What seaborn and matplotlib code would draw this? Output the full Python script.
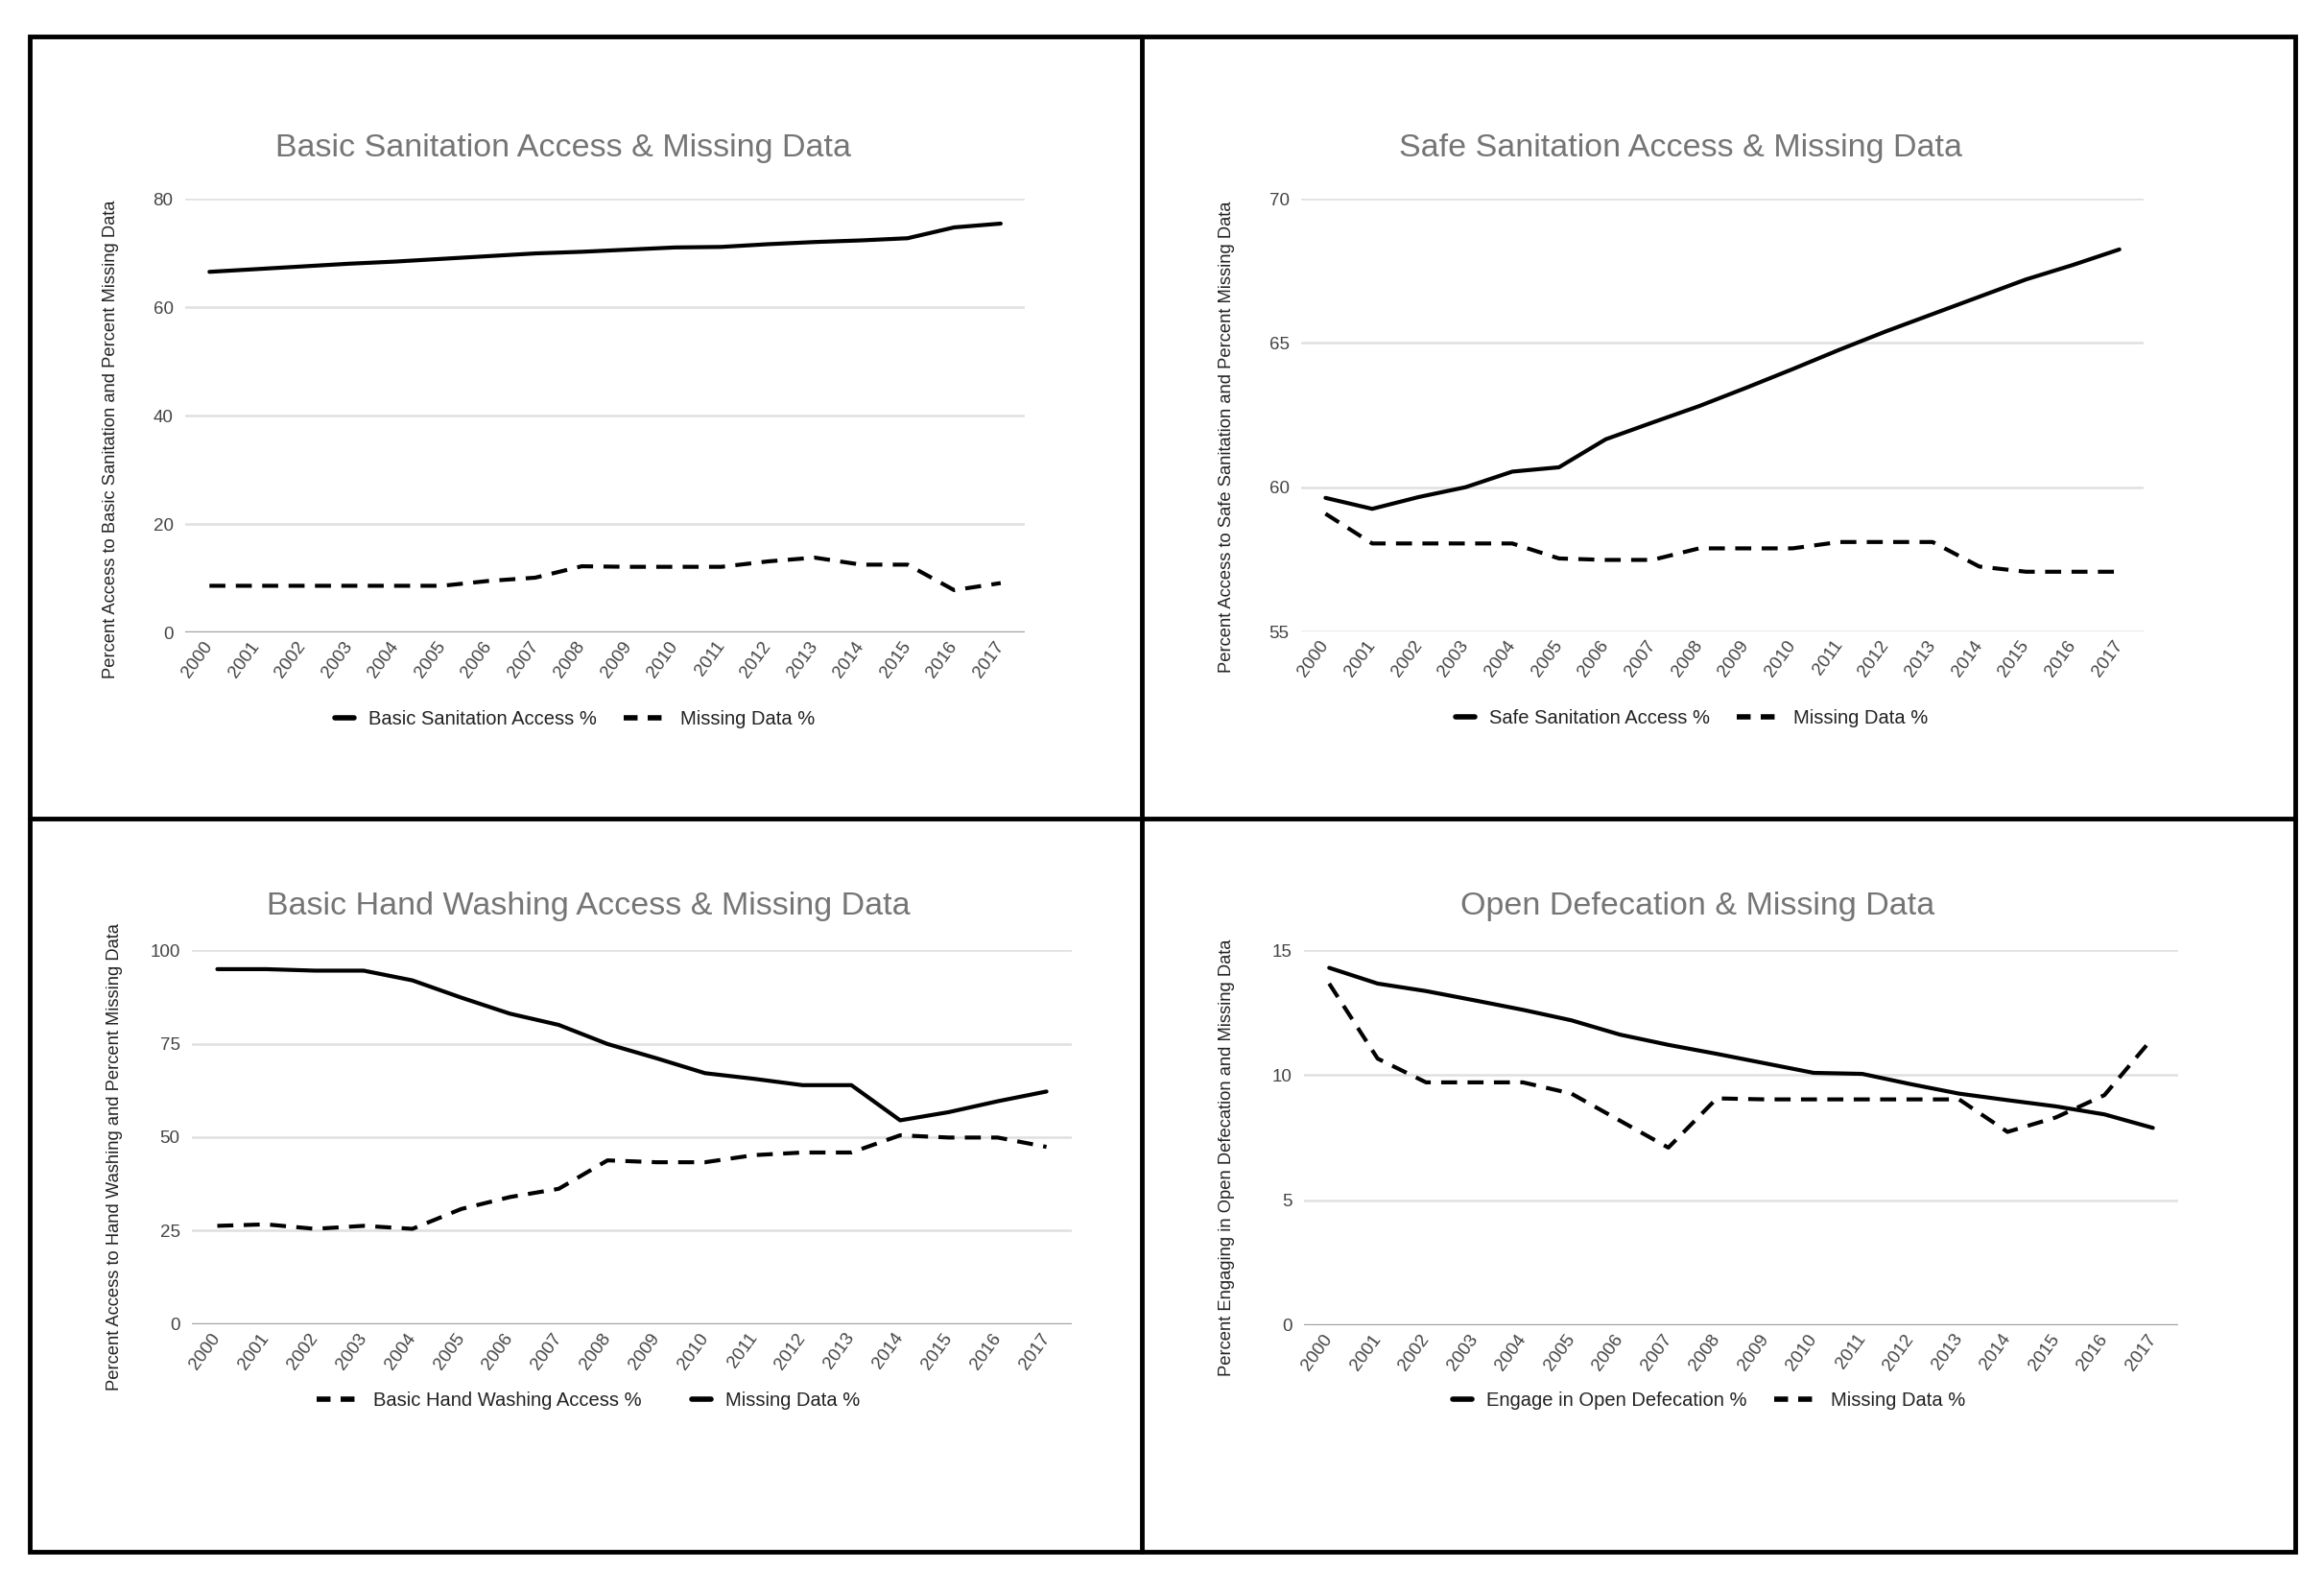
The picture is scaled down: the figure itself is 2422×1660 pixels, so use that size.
import numpy as np
import pandas as pd
import seaborn as sns
import matplotlib.pyplot as plt
from matplotlib.lines import Line2D
from matplotlib.patches import Rectangle
from matplotlib.legend_handler import HandlerLine2D

# --- dados ---
years = list(range(2000, 2018))
year_labels = [str(y) for y in years]

basic_sanitation = [66.5, 67.0, 67.5, 68.0, 68.4, 68.9, 69.4, 69.9, 70.2, 70.6,
                    71.0, 71.1, 71.6, 72.0, 72.3, 72.7, 74.7, 75.4]
basic_missing = [8.6, 8.6, 8.6, 8.6, 8.6, 8.6, 9.5, 10.1, 12.2, 12.1,
                 12.1, 12.1, 13.1, 13.8, 12.5, 12.5, 7.8, 9.1]

safe_sanitation = [59.63, 59.25, 59.66, 60.0, 60.54, 60.69, 61.66, 62.24, 62.81, 63.44,
                   64.09, 64.76, 65.4, 66.0, 66.6, 67.2, 67.7, 68.24]
safe_missing = [59.08, 58.05, 58.05, 58.05, 58.05, 57.53, 57.48, 57.48, 57.88, 57.88,
                57.88, 58.1, 58.1, 58.1, 57.25, 57.07, 57.07, 57.07]

hand_washing = [26.3, 26.7, 25.5, 26.3, 25.5, 30.8, 34.0, 36.2, 43.8, 43.3,
                43.3, 45.2, 45.9, 45.9, 50.5, 49.9, 49.9, 47.4]
hand_missing = [94.9, 94.9, 94.5, 94.5, 91.9, 87.3, 83.0, 80.0, 74.9, 71.1,
                67.1, 65.6, 63.9, 63.9, 54.5, 56.7, 59.6, 62.2]

open_defecation = [14.29, 13.66, 13.36, 12.99, 12.61, 12.19, 11.62, 11.21, 10.85, 10.47,
                   10.09, 10.05, 9.64, 9.26, 9.0, 8.75, 8.43, 7.89]
open_missing = [13.66, 10.66, 9.71, 9.71, 9.71, 9.26, 8.18, 7.10, 9.07, 9.03,
                9.03, 9.03, 9.03, 9.03, 7.73, 8.31, 9.2, 11.49]

titles = ['Basic Sanitation Access & Missing Data',
          'Safe Sanitation Access & Missing Data',
          'Basic Hand Washing Access & Missing Data',
          'Open Defecation & Missing Data']
ylabels = ['Percent Access to Basic Sanitation and Percent Missing Data',
           'Percent Access to Safe Sanitation and Percent Missing Data',
           'Percent Access to Hand Washing and Percent Missing Data',
           'Percent Engaging in Open Defecation and Missing Data']
access_labels = ['Basic Sanitation Access %', 'Safe Sanitation Access %',
                 'Basic Hand Washing Access %', 'Engage in Open Defecation %']
missing_label = 'Missing Data %'

access_values = [basic_sanitation, safe_sanitation, hand_washing, open_defecation]
missing_values = [basic_missing, safe_missing, hand_missing, open_missing]
yticks = [[0, 20, 40, 60, 80], [55, 60, 65, 70], [0, 25, 50, 75, 100], [0, 5, 10, 15]]

# estilo de cada série: (acesso, faltantes)
SOLID = '-'
DASHED = (0, (4, 2.6))
styles = [(SOLID, DASHED), (SOLID, DASHED), (DASHED, SOLID), (SOLID, DASHED)]

# --- layout ---
axes_pos = [[0.0797, 0.6030, 0.3613, 0.2723],
            [0.5599, 0.6036, 0.3625, 0.2717],
            [0.0826, 0.1687, 0.3786, 0.2349],
            [0.5611, 0.1681, 0.3761, 0.2355]]
title_pos = [(0.2424, 0.9072), (0.7230, 0.9072), (0.2531, 0.4313), (0.7304, 0.4313)]
legend_pos = [(0.2424, 0.5482), (0.7230, 0.5488), (0.2531, 0.1205), (0.7304, 0.1205)]
ylabel_y = [0.445, 0.45, 0.446, 0.446]


# legenda: traço contínuo curto, como no gráfico original
class ShortSolidHandler(HandlerLine2D):
    def create_artists(self, legend, orig_handle, xdescent, ydescent, width, height, fontsize, trans):
        artists = super().create_artists(legend, orig_handle, xdescent, ydescent,
                                         width, height, fontsize, trans)
        for art in artists:
            xd = np.asarray(art.get_xdata(), dtype=float)
            yd = np.asarray(art.get_ydata(), dtype=float)
            if len(xd) >= 2:
                art.set_data([xd[-1] - 0.45 * width, xd[-1]], [yd[0], yd[0]])
        return artists


sns.set_style("white")
plt.rcParams['font.family'] = ['Liberation Sans', 'DejaVu Sans']

fig = plt.figure(figsize=(24.22, 16.6), dpi=100)

for i in range(4):
    ax = fig.add_axes(axes_pos[i])
    df = pd.DataFrame({'Ano': years, 'Acesso': access_values[i], 'Faltantes': missing_values[i]})
    ls_access, ls_missing = styles[i]

    sns.lineplot(data=df, x='Ano', y='Acesso', ax=ax, color='black', lw=3,
                 linestyle=ls_access, legend=False, zorder=3)
    sns.lineplot(data=df, x='Ano', y='Faltantes', ax=ax, color='black', lw=3,
                 linestyle=ls_missing, legend=False, zorder=3)

    ax.set_xlim(years[0] - 0.52, years[-1] + 0.52)
    ax.set_ylim(yticks[i][0], yticks[i][-1])
    ax.set_xticks(years)
    ax.set_xticklabels(year_labels, rotation=54, ha='right', va='center',
                       rotation_mode='anchor', fontsize=13.5, color='#444444')
    ax.set_yticks(yticks[i])
    ax.set_yticklabels([str(v) for v in yticks[i]], fontsize=13.5, color='#444444')
    ax.tick_params(axis='both', length=0)
    ax.tick_params(axis='x', pad=8)
    ax.tick_params(axis='y', pad=9)

    # grade
    ax.grid(axis='y', color='#e0e0e0', lw=1.8)
    ax.set_axisbelow(True)
    if yticks[i][0] == 0:
        ax.axhline(0, color='#a0a0a0', lw=2.4, zorder=2)
    sns.despine(ax=ax, left=True, bottom=True)

    ax.set_xlabel('')
    ax.set_ylabel(ylabels[i], fontsize=13.2, color='#222222')
    ax.yaxis.set_label_coords(-0.079, ylabel_y[i])

    fig.text(title_pos[i][0], title_pos[i][1], titles[i], fontsize=24.5,
             color='#757575', ha='center', va='center')

    handles = []
    handler_map = {}
    for ls in (ls_access, ls_missing):
        if ls == SOLID:
            h = Line2D([], [], color='black', lw=4, linestyle=SOLID)
            handler_map[h] = ShortSolidHandler()
        else:
            h = Line2D([], [], color='black', lw=4, linestyle=(0, (2.6, 1.9)))
        handles.append(h)
    fig.legend(handles, [access_labels[i], missing_label], loc='center',
               bbox_to_anchor=legend_pos[i], ncol=2, frameon=False, fontsize=14.5,
               handlelength=2.2, handletextpad=0.75, columnspacing=1.4,
               labelcolor='#222222', handler_map=handler_map)

# --- molduras ---
fig.add_artist(Rectangle((0.0128, 0.0259), 0.9876 - 0.0128, 0.9771 - 0.0259,
                         transform=fig.transFigure, fill=False, ec='black', lw=3.5))
fig.add_artist(Line2D([0.4913, 0.4913], [0.0259, 0.9771], transform=fig.transFigure,
                      color='black', lw=3.5))
fig.add_artist(Line2D([0.0128, 0.9876], [0.4861, 0.4861], transform=fig.transFigure,
                      color='black', lw=3.5))

plt.savefig('out.png', dpi=100, facecolor='white')
